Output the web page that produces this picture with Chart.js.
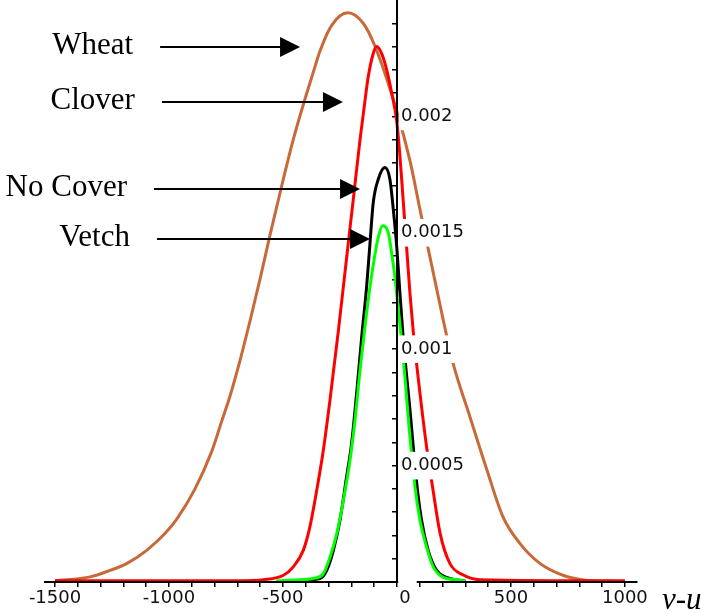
<!DOCTYPE html>
<html>
<head>
<meta charset="utf-8">
<script src="https://cdn.jsdelivr.net/npm/chart.js@4/dist/chart.umd.min.js"></script>
<style>
  html, body { margin: 0; padding: 0; background: #fff; }
</style>
</head>
<body>
<canvas id="chart" width="702" height="613"></canvas>
<script>
// densities of v-u
const wheatV = [-1500, -1346, -1259, -1186, -1098, -1018, -966, -886, -813, -769, -732, -689, -645, -601, -557, -506, -455, -411, -367, -338, -287, -216, -148, -96, 0, 57, 101, 202, 246, 320, 395, 465, 539, 627, 728, 833, 950];
const wheatP = [0.000006, 0.000022, 0.00005, 0.000079, 0.000136, 0.000208, 0.00027, 0.0004, 0.00056, 0.00069, 0.0008, 0.00095, 0.00112, 0.0013, 0.00149, 0.0017, 0.0019, 0.00205, 0.00219, 0.00228, 0.00239, 0.002445, 0.0024, 0.0023, 0.00202, 0.00181, 0.0016, 0.00113, 0.00094, 0.00071, 0.00048, 0.00028, 0.000166, 0.00008, 0.000029, 0.000007, 0.000003];

const cloverV = [-1500, -700, -586, -498, -455, -411, -382, -352, -323, -294, -257, -235, -206, -192, -162, -140, -126, -104, -89, -67, -45, -25, -1, 13, 28, 43, 57, 72, 101, 130, 159, 189, 232, 291, 364, 1000];
const cloverP = [0.000005, 0.000005, 0.00001, 0.000029, 0.000065, 0.000136, 0.000237, 0.000394, 0.000566, 0.00078, 0.00108, 0.00127, 0.00152, 0.00164, 0.0019, 0.00207, 0.00217, 0.00227, 0.0023, 0.00227, 0.0022, 0.00211, 0.00198, 0.00183, 0.00163, 0.00143, 0.00124, 0.00107, 0.00081, 0.00058, 0.00039, 0.00021, 0.00008, 0.00003, 0.00001, 0.000005];

const noCoverV = [-500, -338, -308, -279, -250, -221, -199, -177, -155, -133, -118, -104, -82, -53, -31, -16, -1, 13, 28, 57, 86, 108, 137, 174, 218, 300];
const noCoverP = [0.000003, 0.000015, 0.00005, 0.000136, 0.000265, 0.000452, 0.000595, 0.00081, 0.00105, 0.00127, 0.00146, 0.00163, 0.00173, 0.00178, 0.00173, 0.0016, 0.00144, 0.00124, 0.00104, 0.00074, 0.00043, 0.000265, 0.000136, 0.00005, 0.00002, 0.000003];

const vetchV = [-530, -425, -367, -323, -294, -264, -235, -206, -184, -162, -140, -118, -96, -82, -64, -38, -23, -9, 6, 21, 35, 50, 79, 101, 130, 159, 203, 262, 298];
const vetchP = [0.000004, 0.00001, 0.000015, 0.000036, 0.000106, 0.000208, 0.000351, 0.000523, 0.000695, 0.00091, 0.0011, 0.00127, 0.00141, 0.00148, 0.00153, 0.0015, 0.00141, 0.00131, 0.00117, 0.00103, 0.00088, 0.0007, 0.00041, 0.000265, 0.00015, 0.000065, 0.00002, 0.00001, 0.000005];

const xTickLabels = [-1500, -1000, -500, 0, 500, 1000];
const yTickLabels = [0.0005, 0.001, 0.0015, 0.002];

// arrow annotations (name, tail x, head x, level)
const curveNames = ['Wheat', 'Clover', 'No Cover', 'Vetch'];
const arrowFrom = [-1039, -1031, -1066, -1053];
const arrowTo = [-425, -237, -162, -118];
const arrowAt = [0.002298, 0.002062, 0.001688, 0.001473];

const pts = (xs, ys) => xs.map((v, i) => ({ x: v, y: ys[i] }));
const isYLabel = v => yTickLabels.some(t => Math.abs(t - v) < 1e-10);
const tickFont = { family: 'DejaVu Sans', size: 18 };

// y labels sit to the right of the axis, "0" nudged off the y axis
const labelFix = {
  id: 'labelFix',
  beforeDraw(chart) {
    const x0 = chart.scales.x.getPixelForValue(0);
    chart.scales.y.getLabelItems().forEach(it => {
      it.options.textAlign = 'left';
      it.options.translation[0] = x0 + 4;
      if (it.options.backdrop) it.options.backdrop.left = -2;
    });
    chart.scales.x.getLabelItems().forEach(it => {
      if (it.label === '0') it.options.translation[0] = x0 + 8;
    });
  }
};

const annotations = {
  id: 'annotations',
  afterDraw(chart) {
    const { ctx, chartArea, scales: { x, y } } = chart;
    ctx.save();
    ctx.fillStyle = '#000';
    ctx.strokeStyle = '#000';
    ctx.font = '31px "Liberation Serif"';
    ctx.textAlign = 'right';
    ctx.textBaseline = 'alphabetic';
    curveNames.forEach((name, i) => {
      const x1 = x.getPixelForValue(arrowFrom[i]);
      const x2 = x.getPixelForValue(arrowTo[i]);
      const py = Math.round(y.getPixelForValue(arrowAt[i]));
      ctx.fillText(name, x1 - 27, py + 7);
      ctx.lineWidth = 2;
      ctx.beginPath();
      ctx.moveTo(x1, py);
      ctx.lineTo(x2 - 18, py);
      ctx.stroke();
      ctx.beginPath();
      ctx.moveTo(x2, py);
      ctx.lineTo(x2 - 20, py - 10);
      ctx.lineTo(x2 - 20, py + 10);
      ctx.closePath();
      ctx.fill();
    });
    ctx.font = 'italic 31px "Liberation Serif"';
    ctx.textAlign = 'left';
    ctx.fillText('v-u', chartArea.right + 25, y.getPixelForValue(0) + 27);
    ctx.restore();
  }
};

const line = (data, color) => ({
  data,
  borderColor: color,
  borderWidth: 3,
  pointRadius: 0,
  fill: false,
  cubicInterpolationMode: 'monotone'
});

new Chart(document.getElementById('chart'), {
  type: 'line',
  data: {
    datasets: [
      line(pts(vetchV, vetchP), '#00ff00'),
      line(pts(noCoverV, noCoverP), '#000000'),
      line(pts(cloverV, cloverP), '#ff0000'),
      line(pts(wheatV, wheatP), '#c8693a')
    ]
  },
  options: {
    responsive: false,
    animation: false,
    events: [],
    layout: { padding: { left: 45, right: 65, top: 0, bottom: 31 } },
    plugins: { legend: { display: false }, tooltip: { enabled: false } },
    scales: {
      x: {
        type: 'linear',
        min: -1544,
        max: 1053,
        position: { y: 0 },
        afterBuildTicks: s => {
          const t = [];
          for (let v = -1500; v <= 1000; v += 100) t.push({ value: v });
          s.ticks = t;
        },
        afterFit: s => { s.height = 0; s.paddingLeft = 0; s.paddingRight = 0; s.paddingTop = 0; s.paddingBottom = 0; },
        grid: { display: true, drawOnChartArea: false, drawTicks: true, tickLength: 4, color: '#000', lineWidth: 1.5 },
        border: { display: true, color: '#000', width: 2, z: 1 },
        ticks: {
          z: 2,
          autoSkip: false,
          maxRotation: 0,
          minRotation: 0,
          padding: 2,
          font: tickFont,
          color: '#111',
          showLabelBackdrop: true,
          backdropColor: c => (c.tick && c.tick.value === 0) ? '#ffffff' : 'rgba(0,0,0,0)',
          backdropPadding: { top: 7, bottom: 0, left: 1, right: 6 },
          callback: v => xTickLabels.includes(v) ? String(v) : ''
        }
      },
      y: {
        type: 'linear',
        min: 0,
        max: 0.0025,
        position: { x: 0 },
        afterBuildTicks: s => {
          const t = [];
          for (let i = 1; i <= 24; i++) t.push({ value: i / 10000 });
          s.ticks = t;
        },
        afterFit: s => { s.width = 0; s.paddingLeft = 0; s.paddingRight = 0; s.paddingTop = 0; s.paddingBottom = 0; },
        grid: { display: true, drawOnChartArea: false, drawTicks: true, tickLength: 4, color: '#000', lineWidth: 1.5 },
        border: { display: true, color: '#000', width: 2, z: 1 },
        ticks: {
          z: 2,
          autoSkip: false,
          padding: 0,
          font: tickFont,
          color: '#111',
          showLabelBackdrop: true,
          backdropColor: c => (c.tick && isYLabel(c.tick.value)) ? '#ffffff' : 'rgba(0,0,0,0)',
          backdropPadding: { x: 2, y: 3 },
          callback: v => {
            const m = yTickLabels.find(t => Math.abs(t - v) < 1e-10);
            return m === undefined ? '' : String(m);
          }
        }
      }
    }
  },
  plugins: [labelFix, annotations]
});
</script>
</body>
</html>
